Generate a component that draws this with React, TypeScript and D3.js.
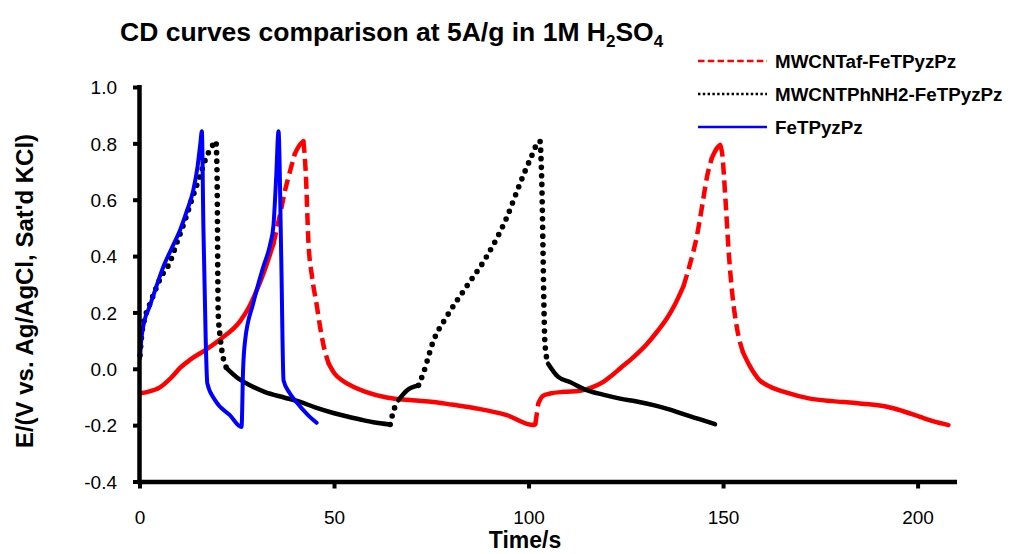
import React from 'react';
import * as d3 from 'd3';

type Pt = [number, number];

// charge/discharge curves: [time (s), E (V)]
const afCurve: Pt[] = [
  [0, -0.085], [2, -0.08], [5, -0.065], [8, -0.03], [10.3, 0.005], [13, 0.035], [17, 0.07],
  [21, 0.11], [25.7, 0.17], [28, 0.22], [30, 0.28], [32, 0.35], [34.3, 0.445], [36, 0.55],
  [37.3, 0.635], [38.7, 0.71], [39.8, 0.765], [41, 0.795], [42, 0.81], [42.6, 0.7],
  [43.3, 0.45], [44.2, 0.33], [45.4, 0.23], [46.3, 0.15], [47.1, 0.09], [48.5, 0.02],
  [50, -0.015], [52, -0.04], [54.8, -0.062], [58, -0.08], [63.4, -0.1], [70, -0.11],
  [75.4, -0.116], [80, -0.125], [86.5, -0.139], [94.3, -0.163], [101.2, -0.198],
  [101.6, -0.195], [102.4, -0.12], [103.5, -0.095], [105.4, -0.086], [109, -0.08],
  [113.1, -0.076], [116, -0.065], [119.1, -0.045], [121, -0.025], [123.4, 0.003],
  [127, 0.045], [130.3, 0.09], [133, 0.135], [135.4, 0.18], [137.5, 0.23], [139.7, 0.295],
  [141.5, 0.38], [143.1, 0.47], [144.5, 0.58], [145.7, 0.68], [147, 0.75], [148.3, 0.785],
  [149.1, 0.796], [149.6, 0.77], [150.5, 0.6], [151.3, 0.42], [152.3, 0.26], [153.4, 0.15],
  [155, 0.06], [156.8, 0.01], [159, -0.035], [162, -0.062], [166, -0.082], [172.2, -0.104],
  [178, -0.113], [183.4, -0.119], [188, -0.125], [192, -0.133], [196, -0.148],
  [200.5, -0.169], [204, -0.185], [207.8, -0.198],
];

const phCurve: Pt[] = [
  [0, 0.05], [0.5, 0.13], [1.2, 0.18], [2.5, 0.23], [3.9, 0.28], [5.5, 0.33], [7.7, 0.38],
  [9.5, 0.45], [11.6, 0.53], [13.5, 0.61], [15, 0.67], [16.2, 0.72], [17.1, 0.755],
  [18.3, 0.785], [19.5, 0.81], [19.8, 0.7], [20.1, 0.2], [20.6, 0.115], [21.4, 0.04],
  [22.3, 0.003], [25, -0.03], [28, -0.055], [32, -0.08], [37, -0.1], [41, -0.115],
  [45, -0.135], [49.7, -0.155], [56.6, -0.178], [60, -0.188], [64.3, -0.196],
  [65.1, -0.151], [66.4, -0.11], [68.6, -0.075], [71.6, -0.057], [72.8, -0.015],
  [75.4, 0.1], [78.8, 0.186], [83.9, 0.293], [89.1, 0.4], [94.3, 0.54], [97.7, 0.66],
  [100.3, 0.745], [102.8, 0.81], [103.2, 0.7], [104.1, 0.09], [104.9, 0.02],
  [107.5, -0.027], [110.5, -0.045], [114.8, -0.074], [119, -0.09], [123.4, -0.104],
  [128, -0.115], [132, -0.127], [136, -0.142], [140.5, -0.163], [144, -0.178],
  [147.8, -0.195],
];

const feCurve: Pt[] = [
  [0, 0.04], [0.3, 0.1], [0.8, 0.15], [1.5, 0.19], [2.1, 0.21], [3.5, 0.265], [6, 0.364],
  [8, 0.425], [10.3, 0.494], [12, 0.56], [13.7, 0.636], [14.8, 0.72], [15.5, 0.8],
  [15.9, 0.845], [16.3, 0.5], [16.9, 0.1], [17.3, -0.05], [19.3, -0.11], [23.1, -0.163],
  [26.1, -0.205], [26.5, 0.0], [27, 0.1], [29.1, 0.234], [31.7, 0.364], [33.4, 0.44],
  [34.3, 0.51], [35, 0.68], [35.6, 0.845], [36.3, 0.4], [36.9, -0.04], [38.5, -0.085],
  [40.3, -0.118], [43, -0.16], [45.4, -0.19],
];

const seriesNames = ['MWCNTaf-FeTPyzPz', 'MWCNTPhNH2-FeTPyzPz', 'FeTPyzPz'];
const xTicks = [0, 50, 100, 150, 200];
const yTicks = [-0.4, -0.2, 0, 0.2, 0.4, 0.6, 0.8, 1.0];

const W = 1010;
const H = 554;
const FONT = 'Liberation Sans, Arial, Helvetica, sans-serif';

const x = d3.scaleLinear().domain([0, 210]).range([140, 957]);
const y = d3.scaleLinear().domain([-0.4, 1.0]).range([482, 87.5]);

const fmtY = (v: number) => d3.format('.1f')(v).replace('\u2212', '-');

// Excel restarts the dash pattern on every segment, so the pattern only shows
// where the trace moves fast. Split each curve into fast / slow runs.
function splitRuns(pts: Pt[], thr: number) {
  const runs: { fast: boolean; pts: Pt[] }[] = [];
  for (let i = 1; i < pts.length; i++) {
    const [t0, e0] = pts[i - 1];
    const [t1, e1] = pts[i];
    const len = Math.hypot(x(t1) - x(t0), y(e1) - y(e0));
    const fast = len / (t1 - t0) > thr;
    const last = runs[runs.length - 1];
    if (last && last.fast === fast) last.pts.push(pts[i]);
    else runs.push({ fast, pts: [pts[i - 1], pts[i]] });
  }
  return runs;
}

const line = d3.line<Pt>()
  .x(d => x(d[0]))
  .y(d => y(d[1]))
  .curve(d3.curveMonotoneX);

const series = [
  { name: seriesNames[0], data: afCurve, color: '#ff0000', width: 4.5, dash: '12 6', cap: 'butt', thr: 13,
    legendDash: '6.5 3.3' },
  { name: seriesNames[1], data: phCurve, color: '#000000', width: 5.6, dash: '0 8.6', cap: 'round', thr: 6.5,
    legendDash: '2.4 2.4' },
  { name: seriesNames[2], data: feCurve, color: '#0000ff', width: 4, dash: null, cap: 'round', thr: Infinity,
    legendDash: null },
];

export default function App() {
  return (
    <svg width={W} height={H} style={{ position: 'absolute', left: 0, top: 0, background: '#fff' }}
      fontFamily={FONT}>
      <rect width={W} height={H} fill="#fff" />

      {/* title */}
      <text x={120} y={41} fontSize={26.5} fontWeight="bold" fill="#000">
        CD curves comparison at 5A/g in 1M H
        <tspan fontSize={17} dy={6}>2</tspan>
        <tspan dy={-6}>SO</tspan>
        <tspan fontSize={17} dy={6}>4</tspan>
      </text>

      {/* curves */}
      {series.map(s => (
        <g key={s.name}>
          {splitRuns(s.data, s.thr).map((r, i) => (
            <path key={i} d={line(r.pts) || ''} fill="none" stroke={s.color}
              strokeWidth={r.fast && s.dash ? s.width : Math.min(s.width, 4.5)}
              strokeLinejoin="round"
              strokeLinecap={r.fast && s.dash ? s.cap : 'round'}
              strokeDasharray={r.fast && s.dash ? s.dash : undefined} />
          ))}
        </g>
      ))}

      {/* axes */}
      <line x1={139.5} x2={139.5} y1={85} y2={484} stroke="#000" strokeWidth={4.5} />
      <line x1={137} x2={957} y1={482} y2={482} stroke="#000" strokeWidth={4.5} />
      {yTicks.map(v => (
        <g key={v}>
          <line x1={133} x2={139.5} y1={y(v)} y2={y(v)} stroke="#000" strokeWidth={4} />
          <text x={117} y={y(v)} dy="0.35em" textAnchor="end" fontSize={19} fill="#000">{fmtY(v)}</text>
        </g>
      ))}
      {xTicks.map(v => (
        <g key={v}>
          <line x1={x(v)} x2={x(v)} y1={482} y2={488.5} stroke="#000" strokeWidth={4} />
          <text x={x(v)} y={524} textAnchor="middle" fontSize={19} fill="#000">{v}</text>
        </g>
      ))}

      {/* axis titles */}
      <text x={525} y={548} textAnchor="middle" fontSize={23} fontWeight="bold" fill="#000">Time/s</text>
      <text transform="translate(32.5,291) rotate(-90)" textAnchor="middle" fontSize={24} fontWeight="bold"
        fill="#000">E/(V vs. Ag/AgCl, Sat'd KCl)</text>

      {/* legend */}
      {series.map((s, i) => {
        const ly = 61 + i * 33;
        return (
          <g key={s.name}>
            <line x1={698} x2={767} y1={ly} y2={ly} stroke={s.color} strokeWidth={2.6}
              strokeDasharray={s.legendDash || undefined} />
            <text x={775} y={ly + 6.5} fontSize={18.8} fontWeight="bold" fill="#000">{s.name}</text>
          </g>
        );
      })}
    </svg>
  );
}
